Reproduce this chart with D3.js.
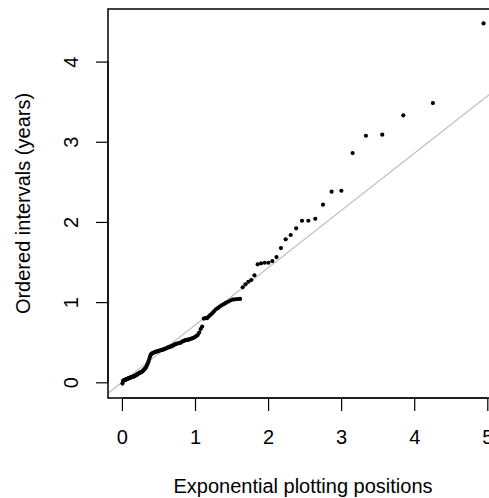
<!DOCTYPE html>
<html>
<head>
<meta charset="utf-8">
<script src="https://cdn.jsdelivr.net/npm/d3@7"></script>
<style>
  html, body { margin: 0; padding: 0; background: #fff; }
  svg { display: block; }
  text { font-family: "Liberation Sans", Arial, Helvetica, sans-serif; fill: #000; }
</style>
</head>
<body>
<svg id="chart" width="489" height="498"></svg>
<script>
// Ordered intervals (years), sorted ascending (n = 140)
const intervals = [
  -0.016, 0.015, 0.020, 0.025, 0.028, 0.030, 0.033, 0.036, 0.040, 0.043,
  0.046, 0.049, 0.052, 0.055, 0.058, 0.060, 0.063, 0.066, 0.068, 0.070,
  0.074, 0.078, 0.082, 0.086, 0.090, 0.095, 0.100, 0.107, 0.112, 0.116,
  0.120, 0.125, 0.130, 0.135, 0.140, 0.150, 0.160, 0.170, 0.180, 0.195,
  0.215, 0.235, 0.260, 0.290, 0.320, 0.345, 0.355, 0.362, 0.368, 0.372,
  0.376, 0.380, 0.384, 0.387, 0.390, 0.393, 0.397, 0.400, 0.403, 0.405,
  0.410, 0.414, 0.418, 0.424, 0.430, 0.435, 0.440, 0.444, 0.448, 0.452,
  0.460, 0.468, 0.475, 0.480, 0.484, 0.487, 0.490, 0.495, 0.505, 0.515,
  0.520, 0.525, 0.528, 0.532, 0.535, 0.542, 0.548, 0.553, 0.565, 0.575,
  0.590, 0.620, 0.665, 0.695, 0.795, 0.800, 0.800, 0.820, 0.840, 0.860,
  0.885, 0.910, 0.925, 0.945, 0.960, 0.975, 0.990, 1.005, 1.020, 1.030,
  1.035, 1.038, 1.040, 1.184, 1.222, 1.254, 1.276, 1.334, 1.471, 1.484,
  1.491, 1.491, 1.512, 1.562, 1.674, 1.783, 1.837, 1.920, 2.015, 2.015,
  2.040, 2.215, 2.377, 2.389, 2.859, 3.075, 3.088, 3.330, 3.483, 4.476
];
// Reference line slope (through the origin)
const refSlope = 0.714;
const xTicks = [0, 1, 2, 3, 4, 5];
const yTicks = [0, 1, 2, 3, 4];
const xTitle = "Exponential plotting positions";
const yTitle = "Ordered intervals (years)";

// Exponential plotting positions for the ranked data: -log(1 - i/(n+1))
const n = intervals.length;
const points = intervals.map((v, k) => ({ x: -Math.log(1 - (k + 1) / (n + 1)), y: v }));

const svg = d3.select("#chart");
const box = { left: 108, right: 498, top: 9, bottom: 398 };

function padded(ext) {
  const r = ext[1] - ext[0];
  return [ext[0] - 0.04 * r, ext[1] + 0.04 * r];
}
const x = d3.scaleLinear().domain(padded(d3.extent(points, d => d.x))).range([box.left, box.right]);
const y = d3.scaleLinear().domain(padded(d3.extent(points, d => d.y))).range([box.bottom, box.top]);

svg.append("clipPath").attr("id", "clip")
  .append("rect").attr("x", box.left).attr("y", box.top)
  .attr("width", box.right - box.left).attr("height", box.bottom - box.top);

// reference line
const xd = x.domain();
svg.append("line")
  .attr("clip-path", "url(#clip)")
  .attr("x1", x(xd[0])).attr("y1", y(refSlope * xd[0]))
  .attr("x2", x(xd[1])).attr("y2", y(refSlope * xd[1]))
  .attr("stroke", "#bebebe").attr("stroke-width", 1.2);

// points
svg.append("g").selectAll("circle").data(points).enter().append("circle")
  .attr("cx", d => x(d.x)).attr("cy", d => y(d.y)).attr("r", 2.1).attr("fill", "#000");

// box
svg.append("rect").attr("x", box.left).attr("y", box.top)
  .attr("width", box.right - box.left).attr("height", box.bottom - box.top)
  .attr("fill", "none").attr("stroke", "#000").attr("stroke-width", 1.5);

// x axis
const xAxis = d3.axisBottom(x).tickValues(xTicks).tickSize(13).tickPadding(19).tickFormat(d3.format("d"));
const gx = svg.append("g").attr("transform", `translate(0,${box.bottom})`).call(xAxis);
gx.select(".domain").attr("d", `M${x(xTicks[0])},0H${x(xTicks[xTicks.length - 1])}`).attr("stroke", "#000").attr("stroke-width", 1.2);
gx.selectAll(".tick line").attr("stroke", "#000").attr("stroke-width", 1.2);
gx.selectAll(".tick text").attr("font-size", 20).attr("font-family", "Liberation Sans, Arial, sans-serif").attr("fill", "#000");

// y axis
const yAxis = d3.axisLeft(y).tickValues(yTicks).tickSize(12).tickFormat(d3.format("d"));
const gy = svg.append("g").attr("transform", `translate(${box.left},0)`).call(yAxis);
gy.select(".domain").attr("d", `M0,${y(yTicks[0])}V${y(yTicks[yTicks.length - 1])}`).attr("stroke", "#000").attr("stroke-width", 1.2);
gy.selectAll(".tick line").attr("stroke", "#000").attr("stroke-width", 1.2);
gy.selectAll(".tick text")
  .attr("font-size", 20).attr("font-family", "Liberation Sans, Arial, sans-serif").attr("fill", "#000")
  .attr("x", null).attr("dy", null)
  .attr("text-anchor", "middle")
  .attr("transform", "translate(-30,0) rotate(-90)");

// titles
svg.append("text").attr("x", (box.left + box.right) / 2).attr("y", 493)
  .attr("text-anchor", "middle").attr("font-size", 20).text(xTitle);
svg.append("text").attr("transform", `translate(30,${(box.top + box.bottom) / 2}) rotate(-90)`)
  .attr("text-anchor", "middle").attr("font-size", 20).text(yTitle);
</script>
</body>
</html>
